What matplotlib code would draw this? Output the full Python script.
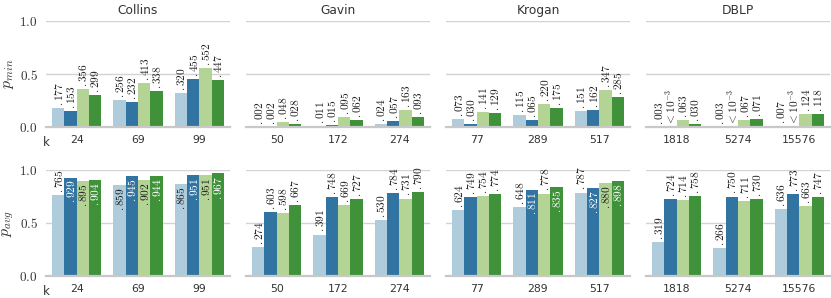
import numpy as np
import matplotlib
matplotlib.use("Agg")
import matplotlib.pyplot as plt
import seaborn as sns

plt.rcParams['mathtext.fontset'] = 'cm'
plt.rcParams['font.family'] = ['DejaVu Sans']

datasets = ["Collins", "Gavin", "Krogan", "DBLP"]
k_values = {
    "Collins": ["24", "69", "99"],
    "Gavin": ["50", "172", "274"],
    "Krogan": ["77", "289", "517"],
    "DBLP": ["1818", "5274", "15576"],
}
# four methods (hue order), values per k
pmin = {
    "Collins": [[.177, .256, .320], [.153, .232, .455], [.356, .413, .552], [.299, .338, .447]],
    "Gavin": [[.002, .011, .024], [.002, .015, .057], [.048, .095, .163], [.028, .062, .093]],
    "Krogan": [[.073, .115, .151], [.030, .065, .162], [.141, .220, .347], [.129, .175, .285]],
    "DBLP": [[.003, .003, .007], [.0004, .0004, .0004], [.063, .067, .124], [.030, .071, .118]],
}
pavg = {
    "Collins": [[.765, .859, .865], [.929, .945, .951], [.895, .902, .951], [.904, .944, .967]],
    "Gavin": [[.274, .391, .530], [.603, .748, .784], [.598, .669, .731], [.667, .727, .790]],
    "Krogan": [[.624, .648, .787], [.749, .811, .827], [.754, .778, .880], [.774, .835, .898]],
    "DBLP": [[.319, .266, .636], [.724, .750, .773], [.714, .711, .663], [.758, .730, .747]],
}
rows = [("p_{min}", pmin), ("p_{avg}", pavg)]

colors = sns.color_palette("Paired", 4, desat=0.75)
text_inside = ['#222222', 'white', '#222222', 'white']

def fmt(v):
    if v < 0.001:
        return r'$<10^{-3}$'
    return '$' + f"{v:.3f}"[1:] + '$'

fig = plt.figure(figsize=(8.31, 2.98), dpi=100)
left = 46 / 831
w = 184 / 831
gap = 16 / 831
row_boxes = [(1 - 127 / 298, 106 / 298), (1 - 276 / 298, 106 / 298)]

nh = 4
bw = 0.8 / nh
for r, (ylab, data) in enumerate(rows):
    bottom, h = row_boxes[r]
    for c, ds in enumerate(datasets):
        ax = fig.add_axes([left + c * (w + gap), bottom, w, h])
        cats = k_values[ds]
        x = np.arange(len(cats))
        for i in range(nh):
            vals = np.array(data[ds][i])
            xs = x - 0.4 + bw * (i + 0.5)
            ax.bar(xs, vals, width=bw, color=colors[i], edgecolor='none', zorder=2)
            for xx, v in zip(xs, vals):
                if v > 0.8:
                    ax.annotate(fmt(v), (xx, v), xytext=(0.3, -1.5), textcoords='offset points',
                                rotation=90, ha='center', va='top', fontsize=8.2,
                                color=text_inside[i], zorder=3)
                else:
                    ax.annotate(fmt(v), (xx, v), xytext=(0.3, 1.5), textcoords='offset points',
                                rotation=90, ha='center', va='bottom', fontsize=8.2,
                                color='#222222', zorder=3)
        ax.set_xlim(-0.5, len(cats) - 0.5)
        ax.set_ylim(0, 1.0)
        ax.set_xticks(x)
        ax.set_xticklabels(cats, fontsize=7.8, color='#333333')
        ax.set_yticks([0.0, 0.5, 1.0])
        ax.grid(axis='y', color='#d3d3d3', lw=1.0, zorder=0)
        ax.set_axisbelow(True)
        for s in ['top', 'right', 'left']:
            ax.spines[s].set_visible(False)
        ax.spines['bottom'].set_color('#c8c8c8')
        ax.spines['bottom'].set_linewidth(1.6)
        ax.tick_params(axis='both', length=0)
        ax.tick_params(axis='x', pad=6)
        ax.tick_params(axis='y', pad=6)
        ax.patch.set_alpha(0)
        if c == 0:
            ax.set_yticklabels(['$0.0$', '$0.5$', '$1.0$'], fontsize=9.5, color='#333333')
            ax.set_ylabel('$' + ylab + '$', fontsize=11.5, color='#333333',
                          va='center', rotation_mode='default')
            ax.yaxis.set_label_coords(-0.205, 0.5)
            ax.annotate('k', (0, 0), xycoords='axes fraction', xytext=(0.5, -13.5),
                        textcoords='offset points', ha='center', va='baseline',
                        fontsize=8.5, color='#333333')
        else:
            ax.set_yticklabels([])
        if r == 0:
            ax.set_title(ds, fontsize=8.8, color='#333333', pad=5)

fig.savefig("out.png", dpi=100)
